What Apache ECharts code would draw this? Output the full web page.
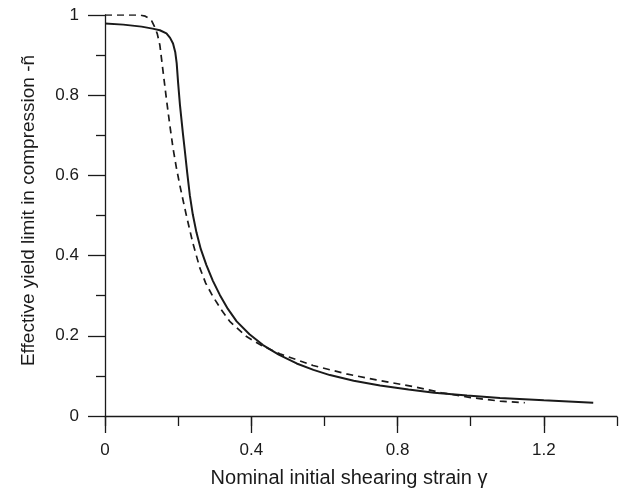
<!DOCTYPE html>
<html>
<head>
<meta charset="utf-8">
<script src="https://cdn.jsdelivr.net/npm/echarts@6/dist/echarts.min.js"></script>
<style>
  html, body { margin: 0; padding: 0; background: #fff; }
  #chart { width: 630px; height: 493px; }
</style>
</head>
<body>
<div id="chart"></div>
<script>
// solid curve: [strain, yield]
const solidLine = [
  [0, 0.979], [0.05, 0.976], [0.10, 0.971], [0.13, 0.966], [0.15, 0.962],
  [0.168, 0.954], [0.178, 0.943], [0.186, 0.929], [0.192, 0.908], [0.196, 0.880],
  [0.200, 0.830], [0.205, 0.775], [0.213, 0.705], [0.218, 0.664], [0.225, 0.605],
  [0.232, 0.550], [0.240, 0.503], [0.250, 0.458], [0.262, 0.416], [0.277, 0.377],
  [0.295, 0.337], [0.314, 0.302], [0.336, 0.267], [0.360, 0.236], [0.395, 0.204],
  [0.432, 0.177], [0.475, 0.153], [0.524, 0.131], [0.570, 0.115], [0.615, 0.102],
  [0.680, 0.088], [0.752, 0.076], [0.830, 0.066], [0.900, 0.058], [0.990, 0.051],
  [1.080, 0.045], [1.200, 0.039], [1.335, 0.033]
];
// dashed curve
const dashedLine = [
  [0, 1.0], [0.095, 1.0], [0.110, 0.997], [0.118, 0.993], [0.128, 0.985],
  [0.136, 0.970], [0.143, 0.953], [0.150, 0.925], [0.154, 0.895], [0.160, 0.850],
  [0.168, 0.790], [0.177, 0.727], [0.186, 0.668], [0.195, 0.620], [0.204, 0.578],
  [0.213, 0.540], [0.223, 0.498], [0.240, 0.432], [0.259, 0.370], [0.275, 0.332],
  [0.295, 0.298], [0.318, 0.265], [0.341, 0.236], [0.387, 0.198], [0.430, 0.175],
  [0.478, 0.155], [0.569, 0.126], [0.660, 0.105], [0.742, 0.090], [0.850, 0.072],
  [0.920, 0.058], [1.000, 0.046], [1.080, 0.037], [1.148, 0.033]
];
const xMajorTicks = [0, 0.4, 0.8, 1.2];

const chart = echarts.init(document.getElementById('chart'));
const ink = '#1a1a1a';
const font = 'Liberation Sans, Arial, sans-serif';
const gridBox = { left: 105, right: 13, top: 15, bottom: 76 };

chart.setOption({
  animation: false,
  backgroundColor: '#fff',
  grid: [
    Object.assign({ containLabel: false }, gridBox),
    Object.assign({ containLabel: false }, gridBox)
  ],
  xAxis: [
    {
      gridIndex: 0, type: 'value', min: 0, max: 1.4, interval: 0.2,
      name: 'Nominal initial shearing strain γ',
      nameLocation: 'middle', nameGap: 52,
      nameTextStyle: { fontFamily: font, fontSize: 20, color: ink, padding: [0, 24, 0, 0] },
      axisLine: { show: true, lineStyle: { color: ink, width: 1.3 } },
      axisTick: { show: true, customValues: xMajorTicks, length: 17, lineStyle: { color: ink, width: 1.3 } },
      axisLabel: { customValues: xMajorTicks, margin: 26, fontFamily: font, fontSize: 17, color: ink },
      splitLine: { show: false }
    },
    {
      gridIndex: 1, type: 'value', min: 0, max: 1.4, interval: 0.2,
      axisLine: { show: false },
      axisTick: { show: true, length: 9, lineStyle: { color: ink, width: 1.3 } },
      axisLabel: { show: false },
      splitLine: { show: false }
    }
  ],
  yAxis: [
    {
      gridIndex: 0, type: 'value', min: 0, max: 1, interval: 0.2,
      name: 'Effective yield limit in compression -ñ',
      nameLocation: 'middle', nameGap: 67,
      nameTextStyle: { fontFamily: font, fontSize: 19, color: ink, padding: [0, 0, 0, 10] },
      axisLine: { show: true, lineStyle: { color: ink, width: 1.3 } },
      axisTick: { show: true, length: 17, lineStyle: { color: ink, width: 1.3 } },
      minorTick: { show: true, splitNumber: 2, length: 9, lineStyle: { color: ink, width: 1.3 } },
      axisLabel: { margin: 26, fontFamily: font, fontSize: 17, color: ink },
      splitLine: { show: false }
    },
    {
      gridIndex: 1, type: 'value', min: 0, max: 1, show: false
    }
  ],
  series: [
    {
      type: 'line', xAxisIndex: 0, yAxisIndex: 0, data: solidLine,
      showSymbol: false, symbol: 'none',
      lineStyle: { color: ink, width: 2 }
    },
    {
      type: 'line', xAxisIndex: 0, yAxisIndex: 0, data: dashedLine,
      showSymbol: false, symbol: 'none',
      lineStyle: { color: ink, width: 1.7, type: [7, 5] }
    }
  ]
});
</script>
</body>
</html>
